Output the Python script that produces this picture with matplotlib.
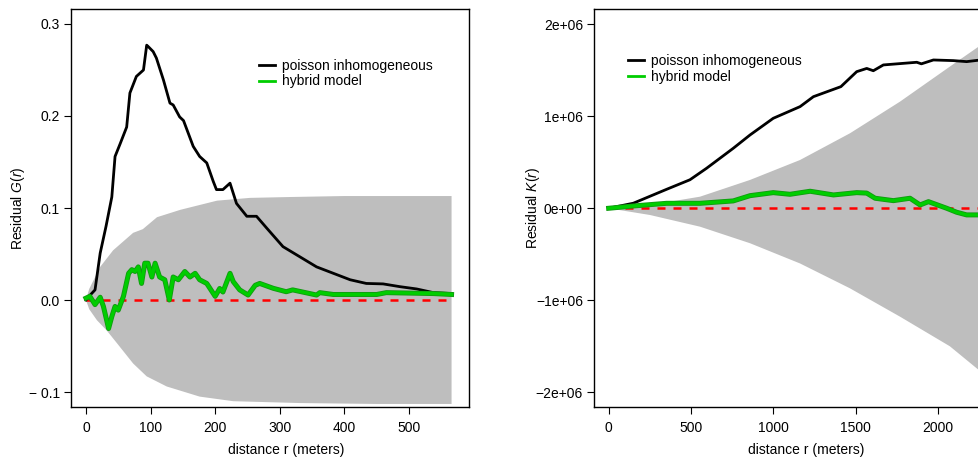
import matplotlib.pyplot as plt
import matplotlib.patheffects as pe
import numpy as np

plt.rcParams['font.family'] = ['Liberation Sans', 'DejaVu Sans']
plt.rcParams['font.size'] = 10
plt.rcParams['mathtext.fontset'] = 'custom'
plt.rcParams['mathtext.it'] = 'Liberation Sans:italic'
plt.rcParams['mathtext.rm'] = 'Liberation Sans'

# ---- left panel: residual G(r) ----
g_env_up_r = [0, 5, 22, 42, 73, 88, 110, 146, 203, 254, 320, 400, 566]
g_env_up = [0.0, 0.012, 0.036, 0.054, 0.073, 0.077, 0.090, 0.098, 0.108, 0.111, 0.112, 0.113, 0.113]
g_env_lo_r = [0, 5, 17, 32, 48, 73, 94, 125, 176, 228, 331, 450, 566]
g_env_lo = [0.0, -0.010, -0.022, -0.033, -0.047, -0.069, -0.083, -0.094, -0.105, -0.110, -0.112, -0.113, -0.113]

g_pois_r = [0, 6, 14, 22, 31, 40, 45, 53, 63, 68, 78, 89, 94, 97, 104, 109, 120, 130, 135,
            145, 151, 166, 176, 187, 197, 202, 212, 223, 233, 249, 264, 280, 305, 331, 357,
            383, 409, 434, 460, 486, 512, 538, 566]
g_pois = [0.0, 0.005, 0.011, 0.051, 0.080, 0.112, 0.156, 0.170, 0.188, 0.225, 0.243, 0.250,
          0.277, 0.275, 0.270, 0.263, 0.239, 0.214, 0.212, 0.199, 0.195, 0.167, 0.156, 0.149,
          0.129, 0.120, 0.120, 0.127, 0.105, 0.091, 0.091, 0.078, 0.058, 0.047, 0.036, 0.029,
          0.022, 0.018, 0.0175, 0.0145, 0.012, 0.008, 0.007]

g_hyb_r = [0, 6, 14, 22, 27, 35, 40, 45, 50, 58, 66, 71, 76, 81, 86, 91, 96, 102, 107, 114,
           122, 129, 135, 143, 153, 161, 169, 176, 187, 200, 207, 212, 223, 228, 238, 251,
           262, 269, 290, 310, 320, 357, 362, 383, 450, 465, 538, 566]
g_hyb = [0.002, 0.004, -0.005, 0.003, -0.007, -0.031, -0.018, -0.007, -0.011, 0.004, 0.029,
         0.033, 0.031, 0.036, 0.018, 0.040, 0.040, 0.025, 0.040, 0.025, 0.022, 0.000, 0.025,
         0.022, 0.031, 0.025, 0.029, 0.022, 0.018, 0.004, 0.0125, 0.0087, 0.029, 0.020, 0.011,
         0.0054, 0.016, 0.018, 0.0127, 0.009, 0.011, 0.0054, 0.008, 0.006, 0.006, 0.008,
         0.007, 0.006]

g_xticks = [0, 100, 200, 300, 400, 500]
g_yticks = [-0.1, 0.0, 0.1, 0.2, 0.3]
g_yticklabels = ['\u2212 0.1', '0.0', '0.1', '0.2', '0.3']

# ---- right panel: residual K(r) ----
k_env_r = [0, 251, 555, 859, 1163, 1466, 1770, 2073, 2250]
k_env_up = [0.0, 0.036e6, 0.126e6, 0.308e6, 0.525e6, 0.815e6, 1.159e6, 1.54e6, 1.76e6]
k_env_lo = [0.0, -0.073e6, -0.20e6, -0.38e6, -0.60e6, -0.87e6, -1.178e6, -1.50e6, -1.76e6]

k_pois_r = [0, 150, 352, 494, 595, 757, 859, 1000, 1163, 1244, 1411, 1507, 1568, 1608, 1669,
            1872, 1900, 1973, 2094, 2175, 2250]
k_pois = [0.0, 0.055e6, 0.206e6, 0.31e6, 0.435e6, 0.652e6, 0.797e6, 0.978e6, 1.105e6,
          1.213e6, 1.322e6, 1.485e6, 1.52e6, 1.495e6, 1.558e6, 1.587e6, 1.57e6, 1.612e6,
          1.605e6, 1.594e6, 1.61e6]

k_hyb_r = [0, 150, 352, 555, 757, 859, 1000, 1102, 1224, 1366, 1507, 1568, 1619, 1730, 1831,
           1892, 1943, 2054, 2114, 2175, 2250]
k_hyb = [0.0, 0.025e6, 0.054e6, 0.054e6, 0.080e6, 0.137e6, 0.170e6, 0.152e6, 0.185e6,
         0.145e6, 0.170e6, 0.165e6, 0.109e6, 0.083e6, 0.109e6, 0.036e6, 0.072e6, 0.0,
         -0.043e6, -0.072e6, -0.072e6]

k_xticks = [0, 500, 1000, 1500, 2000]
k_yticks = [-2e6, -1e6, 0, 1e6, 2e6]
k_yticklabels = ['\u22122e+06', '\u22121e+06', '0e+00', '1e+06', '2e+06']

W, H = 979, 462
fig = plt.figure(figsize=(W / 100, H / 100), dpi=100)

def box(l, t, r, b):
    return [l / W, 1 - b / H, (r - l) / W, (b - t) / H]

axG = fig.add_axes(box(71, 9, 469, 407))
axK = fig.add_axes(box(594, 9, 992, 407))

green_fx = [pe.Stroke(linewidth=3.6, foreground='#119a11'), pe.Normal()]

def panel(ax, up_r, up, lo_r, lo, pr, pv, hr, hv, xmax, ylabel):
    ax.fill(np.r_[up_r, lo_r[::-1]], np.r_[up, lo[::-1]], color='#bebebe', lw=0, zorder=1)
    ax.plot([0, xmax], [0, 0], color='#ff0000', lw=1.8, dashes=(3.2, 3.2), zorder=3)
    ax.plot(pr, pv, color='black', lw=2.0, label='poisson inhomogeneous', zorder=4)
    ax.plot(hr, hv, color='#00cd00', lw=2.4, label='hybrid model', zorder=5,
            path_effects=green_fx)
    ax.set_ylabel(ylabel)
    ax.set_xlabel('distance r (meters)')
    ax.tick_params(direction='out', length=5, width=0.8, pad=3, labelsize=10)
    ax.tick_params(axis='x', pad=5)
    for s in ax.spines.values():
        s.set_linewidth(1.0)
        s.set_zorder(6)
    ax.xaxis.label.set_va('center')
    ax.yaxis.label.set_va('center')

panel(axG, g_env_up_r, g_env_up, g_env_lo_r, g_env_lo, g_pois_r, g_pois, g_hyb_r, g_hyb,
      566, r'Residual $G(r)$')
panel(axK, k_env_r, k_env_up, k_env_r, k_env_lo, k_pois_r, k_pois, k_hyb_r, k_hyb,
      2250, r'Residual $K(r)$')

axG.set_xlim(-23.2, 593)
axG.set_ylim(-0.1163, 0.3163)
axG.set_xticks(g_xticks)
axG.set_yticks(g_yticks)
axG.set_yticklabels(g_yticklabels)
axG.xaxis.set_label_coords(0.54, -0.108)
axG.yaxis.set_label_coords(-0.133, 0.5)

axK.set_xlim(-89, 2329)
axK.set_ylim(-2.16e6, 2.166e6)
axK.set_xticks(k_xticks)
axK.set_yticks(k_yticks)
axK.set_yticklabels(k_yticklabels)
axK.xaxis.set_label_coords(0.534, -0.108)
axK.yaxis.set_label_coords(-0.153, 0.5)

leg_kw = dict(frameon=False, loc='upper left', handlelength=1.15, handletextpad=0.5,
              labelspacing=0.12, borderpad=0, borderaxespad=0, fontsize=10)
lg = axG.legend(bbox_to_anchor=(0.472, 0.875), **leg_kw)
lk = axK.legend(bbox_to_anchor=(0.0854, 0.887), **leg_kw)
for leg in (lg, lk):
    leg.get_lines()[1].set_path_effects([])
    for ln in leg.get_lines():
        ln.set_linewidth(2.0)

fig.savefig('out.png', dpi=100)
